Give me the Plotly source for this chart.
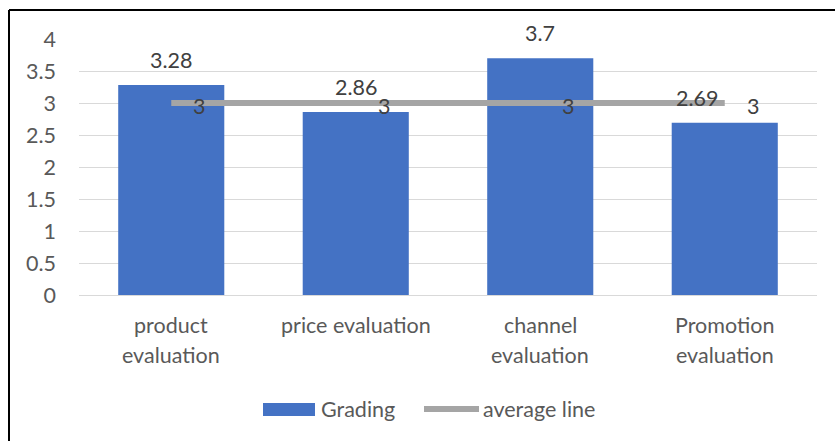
import plotly.graph_objects as go

# Evaluation dimensions and scores
categories = ["product evaluation", "price evaluation", "channel evaluation", "Promotion evaluation"]
category_lines = [["product", "evaluation"], ["price evaluation"], ["channel", "evaluation"], ["Promotion", "evaluation"]]
grading = [3.28, 2.86, 3.7, 2.69]
average = [3, 3, 3, 3]
y_ticks = [0, 0.5, 1, 1.5, 2, 2.5, 3, 3.5, 4]
series_names = ["Grading", "average line"]

W, H = 835, 441
L, R, T, B = 79, 18, 39, 146
PW, PH = W - L - R, H - T - B

FONT = "Lato, Open Sans, sans-serif"
BAR_COLOR = "#4472C4"
LINE_COLOR = "#A5A5A5"
LABEL_COLOR = "#404040"
AXIS_COLOR = "#595959"
FS = 21.5


def px_x(p):
    return (p - L) / PW


def px_y(p):
    return (H - B - p) / PH


fig = go.Figure()
fig.add_trace(go.Bar(x=categories, y=grading, name=series_names[0],
                     marker=dict(color=BAR_COLOR, line=dict(width=0)),
                     showlegend=False))
fig.add_trace(go.Scatter(x=categories, y=average, name=series_names[1], mode="lines",
                         line=dict(color=LINE_COLOR, width=6),
                         showlegend=False))

annotations = []
# value labels above the bars
bar_xshift = [0, 0, 0, -28]
for c, v, dx in zip(categories, grading, bar_xshift):
    annotations.append(dict(x=c, y=v, xref="x", yref="y", text=f"{v:g}", showarrow=False,
                            yanchor="bottom", yshift=10, xshift=dx,
                            font=dict(family=FONT, size=FS, color=LABEL_COLOR)))
# value labels to the right of the average-line points
for c, v in zip(categories, average):
    annotations.append(dict(x=c, y=v, xref="x", yref="y", text=f"{v:g}", showarrow=False,
                            xanchor="left", yanchor="middle", xshift=20, yshift=-3,
                            font=dict(family=FONT, size=FS, color=LABEL_COLOR)))
# category labels, one annotation per line
for c, lines in zip(categories, category_lines):
    for i, ln in enumerate(lines):
        annotations.append(dict(x=c, y=0, xref="x", yref="y", text=ln, showarrow=False,
                                yanchor="middle", yshift=-30 - 30 * i,
                                font=dict(family=FONT, size=FS, color=AXIS_COLOR)))

# legend drawn by hand
shapes = [
    dict(type="rect", xref="paper", yref="paper",
         x0=px_x(263), x1=px_x(315), y0=px_y(416), y1=px_y(403),
         fillcolor=BAR_COLOR, line=dict(width=0)),
    dict(type="line", xref="paper", yref="paper",
         x0=px_x(424), x1=px_x(479), y0=px_y(409), y1=px_y(409),
         line=dict(color=LINE_COLOR, width=6)),
    # frame lines
    dict(type="line", xref="paper", yref="paper",
         x0=px_x(9), x1=px_x(840), y0=px_y(10), y1=px_y(10),
         line=dict(color="black", width=2)),
    dict(type="line", xref="paper", yref="paper",
         x0=px_x(9), x1=px_x(9), y0=px_y(10), y1=px_y(450),
         line=dict(color="black", width=2)),
]
annotations.append(dict(x=px_x(319), y=px_y(409), xref="paper", yref="paper",
                        text=series_names[0], showarrow=False, xanchor="left", yanchor="middle",
                        font=dict(family=FONT, size=FS, color=AXIS_COLOR)))
annotations.append(dict(x=px_x(481), y=px_y(409), xref="paper", yref="paper",
                        text=series_names[1], showarrow=False, xanchor="left", yanchor="middle",
                        font=dict(family=FONT, size=FS, color=AXIS_COLOR)))

fig.update_layout(
    width=W, height=H,
    margin=dict(l=L, r=R, t=T, b=B, pad=0),
    paper_bgcolor="white", plot_bgcolor="white",
    bargap=0.425,
    showlegend=False,
    font=dict(family=FONT, size=FS, color=AXIS_COLOR),
    xaxis=dict(showticklabels=False, showgrid=False, showline=False, ticks="", zeroline=False),
    yaxis=dict(range=[0, 4], tickvals=y_ticks, ticktext=[f"{t:g}" for t in y_ticks],
               showgrid=True, gridcolor="#D9D9D9", gridwidth=1,
               zeroline=True, zerolinecolor="#D9D9D9", zerolinewidth=1,
               showline=False, ticks="", ticklabelstandoff=22,
               tickfont=dict(family=FONT, size=FS, color=AXIS_COLOR)),
    annotations=annotations,
    shapes=shapes,
)

fig.write_html("out.html")
